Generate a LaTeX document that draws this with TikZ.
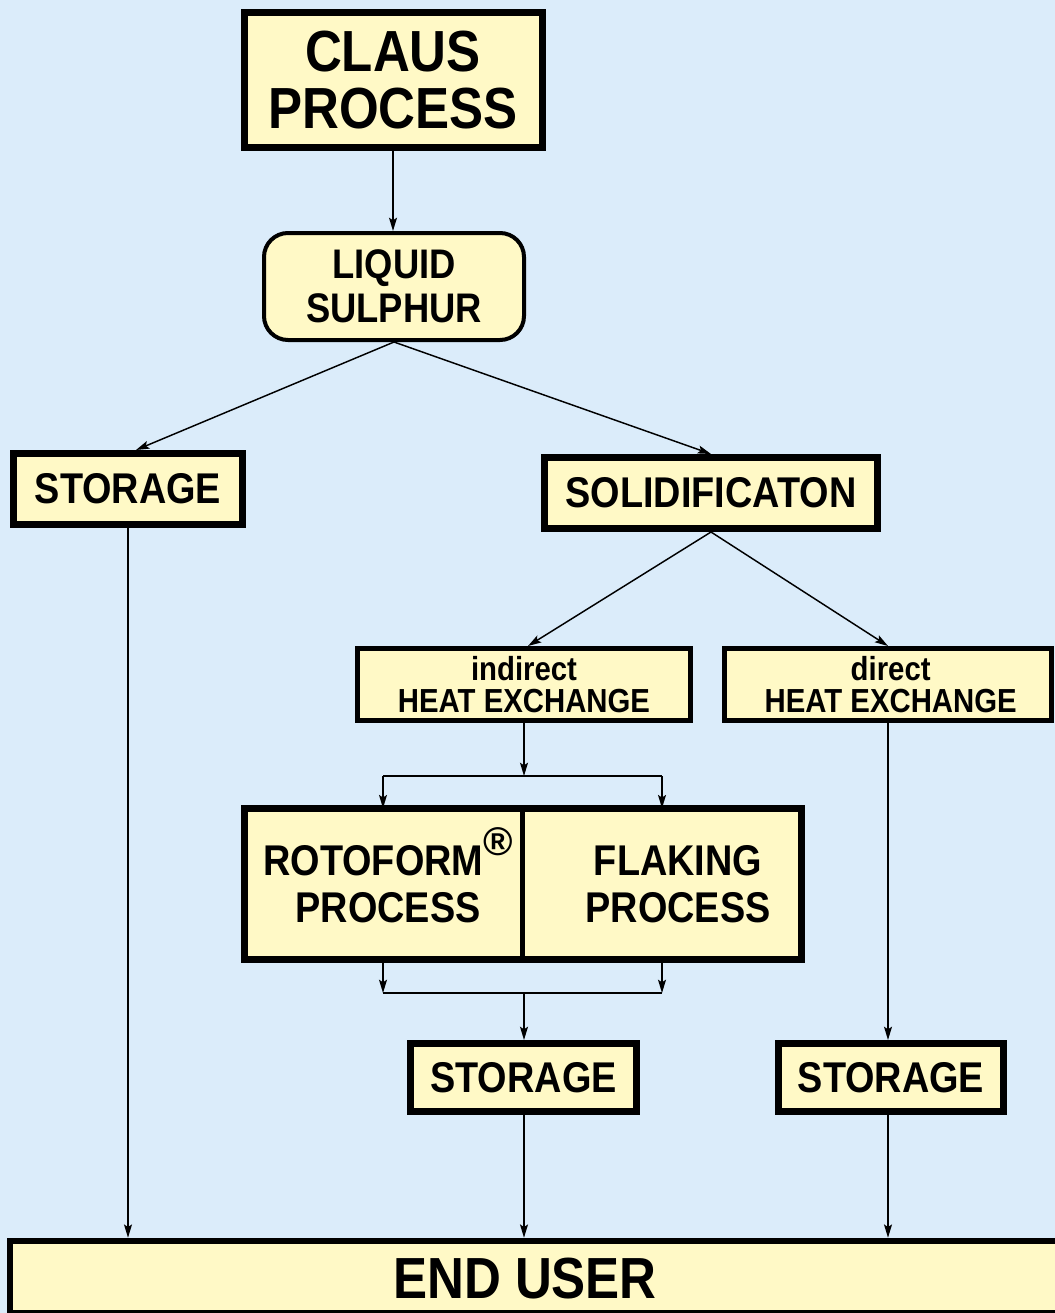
\documentclass[tikz,border=0pt]{standalone}
\usepackage{fontspec}
\setmainfont{Liberation Sans}[FakeStretch=0.88]
\newfontfamily\regfont{Liberation Sans}
\usetikzlibrary{arrows.meta}
\definecolor{bgblue}{RGB}{219,236,250}
\definecolor{boxfill}{RGB}{255,249,198}
\newcommand\myfs[2]{\fontsize{#1}{#2}\selectfont}
\begin{document}
\begin{tikzpicture}[x=0.75pt,y=-0.75pt,
  box/.style={draw=black, fill=boxfill, line width=5.25pt, inner sep=0pt, align=center},
  thinbox/.style={box, line width=3.75pt},
  bigtxt/.style={font=\bfseries\myfs{43.5}{43}},
  midtxt/.style={font=\bfseries\myfs{32.25}{35}},
  smalltxt/.style={font=\bfseries\myfs{25}{24}},
  conn/.style={line width=1.1pt, -{Stealth[length=10pt,width=6pt,inset=2pt]}},
  plain/.style={line width=1.1pt}]
\fill[bgblue] (0,0) rectangle (1055,1313);
\useasboundingbox (0,0) rectangle (1055,1313);

\node[box, bigtxt, minimum width=223.5pt, minimum height=101.25pt] (claus) at (393,80) {CLAUS\\PROCESS};
\node[box, line width=3pt, rounded corners=18pt, minimum width=195pt, minimum height=80.25pt, font=\bfseries\myfs{31}{33}] (liquid) at (394,286.5) {LIQUID\\SULPHUR};
\node[box, midtxt, minimum width=171.75pt, minimum height=53.25pt] (storL) at (128,489) {STORAGE};
\node[box, midtxt, minimum width=249.75pt, minimum height=53.25pt] (solid) at (711,493) {SOLIDIFICATON};
\node[thinbox, smalltxt, minimum width=249.75pt, minimum height=54pt] (ind) at (524,684.5) {indirect\\HEAT EXCHANGE};
\node[thinbox, smalltxt, minimum width=245.25pt, minimum height=54pt] (dir) at (888,684.5) {\hspace*{4pt}direct\\\hspace*{4pt}HEAT EXCHANGE};

\node[fill=boxfill, inner sep=0pt, minimum width=208.125pt, minimum height=113.25pt] (roto) at (383.25,884) {};
\node[fill=boxfill, inner sep=0pt, minimum width=209.625pt, minimum height=113.25pt] (flak) at (661.75,884) {};
\draw[line width=5.25pt] (roto.north west) rectangle (flak.south east);
\draw[line width=3.75pt] (roto.north east) -- (roto.south east);
\node[align=center, midtxt] (rototxt) at (388,884) {ROTOFORM\smash{\raisebox{15pt}{\regfont\myfs{30}{30}®}}\\PROCESS};
\node[align=center, midtxt] (flaktxt) at (678,884) {FLAKING\\PROCESS};

\node[box, midtxt, minimum width=169.5pt, minimum height=51pt] (storM) at (523.5,1077.5) {STORAGE};
\node[box, midtxt, minimum width=168.75pt, minimum height=51pt] (storR) at (891,1077.5) {STORAGE};
\node[box, line width=4.5pt, minimum width=797pt, minimum height=54.4pt] (enduser) at (541.5,1277) {};
\node[bigtxt] (eutext) at (525,1279) {END USER};

\coordinate (j1) at (524,776);
\coordinate (jL) at (383,776);
\coordinate (jR) at (662,776);
\coordinate (k1) at (524,993);
\coordinate (kL) at (383,993);
\coordinate (kR) at (662,993);

\draw[conn] (claus.south) -- (claus.south |- liquid.north);
\draw[conn] (liquid.south) -- ([xshift=6]storL.north);
\draw[conn] (liquid.south) -- (solid.north);
\draw[conn] (solid.south) -- ([xshift=3]ind.north);
\draw[conn] (solid.south) -- (dir.north);
\draw[conn] (ind.south) -- (j1);
\draw[plain] (jL) -- (jR);
\draw[conn] (jL) -- (jL |- roto.north);
\draw[conn] (jR) -- (jR |- flak.north);
\draw[conn] (kL |- roto.south) -- (kL);
\draw[conn] (kR |- flak.south) -- (kR);
\draw[plain] (kL) -- (kR);
\draw[conn] (k1) -- (k1 |- storM.north);
\draw[conn] (dir.south) -- (dir.south |- storR.north);
\draw[conn] (storL.south) -- (storL.south |- enduser.north);
\draw[conn] (k1 |- storM.south) -- (k1 |- enduser.north);
\draw[conn] (storR.south -| dir.south) -- (dir.south |- enduser.north);
\end{tikzpicture}
\end{document}
